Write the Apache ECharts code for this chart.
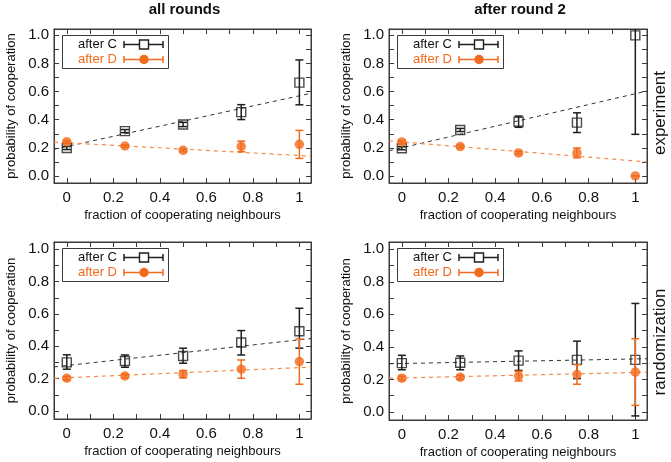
<!DOCTYPE html>
<html><head><meta charset="utf-8">
<script src="https://cdn.jsdelivr.net/npm/echarts@6/dist/echarts.min.js"></script>
<style>html,body{margin:0;padding:0;background:#fff}#c{width:671px;height:462px}</style>
</head><body><div id="c"></div>
<script>
// ---------- data ----------
const xValues = [0, 0.25, 0.5, 0.75, 1];
const columnTitles = ['all rounds', 'after round 2'];
const rowLabels = ['experiment', 'randomization'];
const seriesNames = ['after C', 'after D'];
const xTickValues = [0, 0.1, 0.2, 0.3, 0.4, 0.5, 0.6, 0.7, 0.8, 0.9, 1];
const xLabelValues = [0, 0.2, 0.4, 0.6, 0.8, 1];
const xTickLabels = ['0', '0.2', '0.4', '0.6', '0.8', '1'];
const yTickValues = [0, 0.1, 0.2, 0.3, 0.4, 0.5, 0.6, 0.7, 0.8, 0.9, 1];
const yLabelValues = [0, 0.2, 0.4, 0.6, 0.8, 1];
const yTickLabels = ['0.0', '0.2', '0.4', '0.6', '0.8', '1.0'];
const xAxisName = 'fraction of cooperating neighbours';
const yAxisName = 'probability of cooperation';
const fitX = [-0.055, 1.05];

// experiment, all rounds
const expAllC = [0.199, 0.319, 0.366, 0.454, 0.664];
const expAllCLow = [0.188, 0.308, 0.351, 0.401, 0.506];
const expAllCHigh = [0.210, 0.330, 0.381, 0.507, 0.825];
const expAllD = [0.243, 0.213, 0.182, 0.210, 0.225];
const expAllDLow = [0.234, 0.204, 0.172, 0.172, 0.125];
const expAllDHigh = [0.252, 0.222, 0.192, 0.248, 0.324];
const expAllFitC = [0.190, 0.588];
const expAllFitD = [0.241, 0.141];

// experiment, after round 2
const expR2C = [0.197, 0.327, 0.386, 0.379, 1.000];
const expR2CLow = [0.186, 0.316, 0.346, 0.309, 0.296];
const expR2CHigh = [0.208, 0.338, 0.426, 0.449, 1.704];
const expR2D = [0.242, 0.209, 0.164, 0.164, 0.000];
const expR2DLow = [0.232, 0.199, 0.154, 0.129, 0.000];
const expR2DHigh = [0.252, 0.219, 0.174, 0.199, 0.000];
const expR2FitC = [0.179, 0.604];
const expR2FitD = [0.249, 0.100];

// randomization, all rounds
const rndAllC = [0.300, 0.309, 0.340, 0.423, 0.493];
const rndAllCLow = [0.258, 0.270, 0.295, 0.346, 0.388];
const rndAllCHigh = [0.347, 0.346, 0.388, 0.497, 0.635];
const rndAllD = [0.202, 0.216, 0.227, 0.258, 0.305];
const rndAllDLow = [0.190, 0.205, 0.205, 0.202, 0.165];
const rndAllDHigh = [0.214, 0.227, 0.250, 0.315, 0.445];
const rndAllFitC = [0.272, 0.448];
const rndAllFitD = [0.202, 0.271];

// randomization, after round 2
const rndR2C = [0.300, 0.302, 0.315, 0.320, 0.320];
const rndR2CLow = [0.259, 0.259, 0.255, 0.205, -0.025];
const rndR2CHigh = [0.348, 0.344, 0.375, 0.435, 0.667];
const rndR2D = [0.207, 0.213, 0.220, 0.230, 0.245];
const rndR2DLow = [0.195, 0.200, 0.190, 0.170, 0.040];
const rndR2DHigh = [0.220, 0.226, 0.250, 0.290, 0.450];
const rndR2FitC = [0.296, 0.327];
const rndR2FitD = [0.207, 0.244];

// ---------- styles / layout ----------
const FONT = "'Liberation Sans', Arial, Helvetica, sans-serif";
const BLACK = '#1e1e1e';
const ORANGE = '#f26a1c';
const ORANGE_LINE = '#f5894a';
const FRAME = '#3a3a3a';

const panels = [
  {c: expAllC, cl: expAllCLow, ch: expAllCHigh, d: expAllD, dl: expAllDLow, dh: expAllDHigh, fc: expAllFitC, fd: expAllFitD},
  {c: expR2C, cl: expR2CLow, ch: expR2CHigh, d: expR2D, dl: expR2DLow, dh: expR2DHigh, fc: expR2FitC, fd: expR2FitD},
  {c: rndAllC, cl: rndAllCLow, ch: rndAllCHigh, d: rndAllD, dl: rndAllDLow, dh: rndAllDHigh, fc: rndAllFitC, fd: rndAllFitD},
  {c: rndR2C, cl: rndR2CLow, ch: rndR2CHigh, d: rndR2D, dl: rndR2DLow, dh: rndR2DHigh, fc: rndR2FitC, fd: rndR2FitD}
];
const gridRects = [
  {left: 54, top: 29, width: 257, height: 154},
  {left: 389, top: 29, width: 258, height: 154},
  {left: 54, top: 242, width: 257, height: 177},
  {left: 389, top: 242, width: 258, height: 178}
];

const grids = [], xAxes = [], yAxes = [], series = [], graphics = [];

function errRender(color) {
  return function (params, api) {
    const cs = params.coordSys;
    const x = api.value(0), lo = api.value(1), hi = api.value(2);
    const pLo = api.coord([x, lo]);
    const pHi = api.coord([x, hi]);
    const top = cs.y, bottom = cs.y + cs.height;
    let y1 = pHi[1], y2 = pLo[1];
    const clipTop = y1 < top, clipBot = y2 > bottom;
    y1 = Math.max(y1, top); y2 = Math.min(y2, bottom);
    const cw = 4;
    const st = {stroke: color, lineWidth: 1.5};
    const children = [{type: 'line', shape: {x1: pLo[0], y1: y1, x2: pLo[0], y2: y2}, style: st}];
    if (!clipTop) children.push({type: 'line', shape: {x1: pHi[0] - cw, y1: pHi[1], x2: pHi[0] + cw, y2: pHi[1]}, style: st});
    if (!clipBot) children.push({type: 'line', shape: {x1: pLo[0] - cw, y1: pLo[1], x2: pLo[0] + cw, y2: pLo[1]}, style: st});
    return {type: 'group', children: children};
  };
}

panels.forEach((p, i) => {
  const g = gridRects[i];
  grids.push({left: g.left, top: g.top, width: g.width, height: g.height, show: true, borderColor: FRAME, borderWidth: 1, backgroundColor: 'transparent'});
  const axisLine = {show: true, onZero: false, lineStyle: {color: FRAME, width: 1}};
  const tick = {show: true, inside: true, length: 5, lineStyle: {color: FRAME, width: 1}};
  xAxes.push({
    type: 'value', gridIndex: i, min: fitX[0], max: fitX[1], position: 'bottom',
    axisLine: axisLine, splitLine: {show: false},
    axisTick: Object.assign({customValues: xTickValues}, tick),
    axisLabel: {customValues: xLabelValues, margin: 7, color: '#111', fontFamily: FONT, fontSize: 15,
      formatter: v => xTickLabels[xLabelValues.findIndex(t => Math.abs(t - v) < 1e-6)]},
    name: xAxisName, nameLocation: 'middle', nameGap: 26,
    nameTextStyle: {color: '#111', fontFamily: FONT, fontSize: 13}
  });
  xAxes.push({
    type: 'value', gridIndex: i, min: fitX[0], max: fitX[1], position: 'top',
    axisLine: axisLine, splitLine: {show: false},
    axisTick: Object.assign({customValues: xTickValues}, tick),
    axisLabel: {show: false}
  });
  yAxes.push({
    type: 'value', gridIndex: i, min: -0.05, max: 1.045, position: 'left',
    axisLine: axisLine, splitLine: {show: false},
    axisTick: Object.assign({customValues: yTickValues}, tick),
    axisLabel: {customValues: yLabelValues, margin: 5, color: '#111', fontFamily: FONT, fontSize: 15,
      formatter: v => yTickLabels[yLabelValues.findIndex(t => Math.abs(t - v) < 1e-6)]},
    name: yAxisName, nameLocation: 'middle', nameGap: 36,
    nameTextStyle: {color: '#111', fontFamily: FONT, fontSize: 13}
  });
  yAxes.push({
    type: 'value', gridIndex: i, min: -0.05, max: 1.045, position: 'right',
    axisLine: axisLine, splitLine: {show: false},
    axisTick: Object.assign({customValues: yTickValues}, tick),
    axisLabel: {show: false}
  });
  const xi = 2 * i, yi = 2 * i;
  series.push({
    type: 'line', xAxisIndex: xi, yAxisIndex: yi, data: fitX.map((x, k) => [x, p.fc[k]]),
    showSymbol: false, silent: true, z: 1,
    lineStyle: {color: '#333', width: 1, type: [4, 4]}
  });
  series.push({
    type: 'line', xAxisIndex: xi, yAxisIndex: yi, data: fitX.map((x, k) => [x, p.fd[k]]),
    showSymbol: false, silent: true, z: 1,
    lineStyle: {color: ORANGE_LINE, width: 1.2, type: [4, 4]}
  });
  series.push({
    type: 'custom', name: seriesNames[0], xAxisIndex: xi, yAxisIndex: yi, z: 2,
    data: xValues.map((x, k) => [x, p.cl[k], p.ch[k]]),
    renderItem: errRender(BLACK)
  });
  series.push({
    type: 'scatter', name: seriesNames[0], xAxisIndex: xi, yAxisIndex: yi, z: 3,
    data: xValues.map((x, k) => [x, p.c[k]]),
    symbol: 'rect', symbolSize: 9,
    itemStyle: {color: 'rgba(255,255,255,0)', borderColor: BLACK, borderWidth: 1.4}
  });
  series.push({
    type: 'custom', name: seriesNames[1], xAxisIndex: xi, yAxisIndex: yi, z: 4,
    data: xValues.map((x, k) => [x, p.dl[k], p.dh[k]]),
    renderItem: errRender(ORANGE)
  });
  series.push({
    type: 'scatter', name: seriesNames[1], xAxisIndex: xi, yAxisIndex: yi, z: 5,
    data: xValues.map((x, k) => [x, p.d[k]]),
    symbol: 'circle', symbolSize: 9.5,
    itemStyle: {color: ORANGE}
  });

  // legend box
  const lx = g.left + 8, ly = g.top + 6;
  const rows = [{name: seriesNames[0], color: BLACK, tc: '#111', y: 9.5}, {name: seriesNames[1], color: ORANGE, tc: ORANGE, y: 24.5}];
  const lchildren = [{type: 'rect', shape: {x: 0.5, y: 0.5, width: 106, height: 33}, style: {fill: '#fff', stroke: FRAME, lineWidth: 1}}];
  rows.forEach((r, k) => {
    lchildren.push({type: 'text', x: 55, y: r.y, style: {text: r.name, fill: r.tc, font: '13px ' + FONT, textAlign: 'right', textVerticalAlign: 'middle'}});
    const st = {stroke: r.color, lineWidth: 1.5};
    lchildren.push({type: 'line', shape: {x1: 62, y1: r.y, x2: 101, y2: r.y}, style: st});
    lchildren.push({type: 'line', shape: {x1: 62, y1: r.y - 3.5, x2: 62, y2: r.y + 3.5}, style: st});
    lchildren.push({type: 'line', shape: {x1: 101, y1: r.y - 3.5, x2: 101, y2: r.y + 3.5}, style: st});
    if (k === 0) lchildren.push({type: 'rect', shape: {x: 77.5, y: r.y - 4.5, width: 9, height: 9}, style: {fill: '#fff', stroke: BLACK, lineWidth: 1.4}});
    else lchildren.push({type: 'circle', shape: {cx: 82, cy: r.y, r: 4.75}, style: {fill: ORANGE}});
  });
  graphics.push({type: 'group', x: lx, y: ly, z: 100, children: lchildren});
});

// column titles
columnTitles.forEach((t, k) => {
  const g = gridRects[k];
  graphics.push({type: 'text', x: g.left + g.width / 2 + 2, y: 10, style: {text: t, fill: '#111', font: 'bold 15px ' + FONT, textAlign: 'center', textVerticalAlign: 'middle'}});
});
// row labels
[113, 342].forEach((yc, k) => {
  graphics.push({type: 'text', x: 660, y: yc, rotation: Math.PI / 2, style: {text: rowLabels[k], fill: '#111', font: '17px ' + FONT, textAlign: 'center', textVerticalAlign: 'middle'}});
});

const chart = echarts.init(document.getElementById('c'), null, {renderer: 'canvas'});
chart.setOption({
  animation: false,
  backgroundColor: '#fff',
  grid: grids, xAxis: xAxes, yAxis: yAxes, series: series, graphic: graphics
});
</script></body></html>
